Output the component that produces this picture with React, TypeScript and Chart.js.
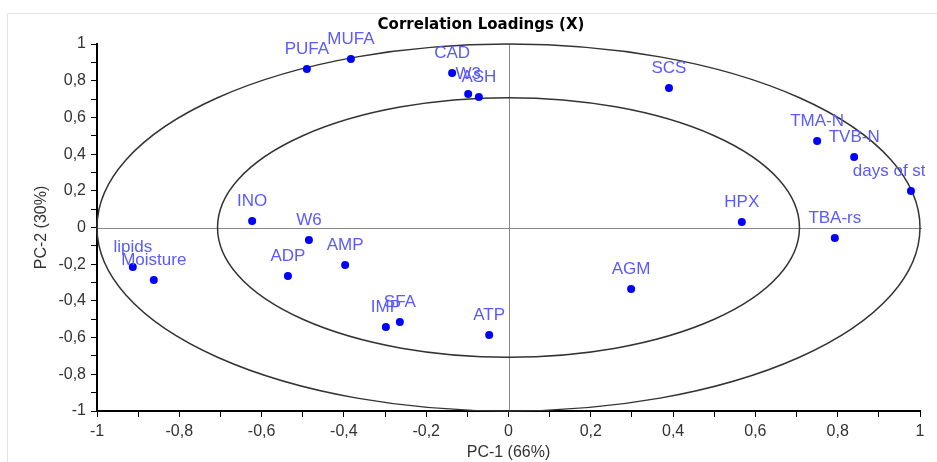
import React, { useEffect, useRef } from 'react';
import { Chart, registerables } from 'chart.js';

Chart.register(...registerables);

// ---- Data ----
const variableNames = [
  'PUFA', 'MUFA', 'CAD', 'W3', 'ASH', 'SCS', 'TMA-N', 'TVB-N', 'days of storage',
  'HPX', 'TBA-rs', 'INO', 'W6', 'lipids', 'Moisture', 'ADP', 'AMP', 'IMP', 'SFA', 'ATP', 'AGM',
];
const pc1Loadings = [
  -0.490, -0.383, -0.137, -0.098, -0.072, 0.390, 0.750, 0.840, 0.978,
  0.567, 0.793, -0.623, -0.485, -0.913, -0.862, -0.536, -0.397, -0.298, -0.264, -0.047, 0.298,
];
const pc2Loadings = [
  0.864, 0.918, 0.842, 0.728, 0.711, 0.760, 0.471, 0.384, 0.199,
  0.030, -0.057, 0.035, -0.068, -0.215, -0.286, -0.264, -0.204, -0.542, -0.515, -0.586, -0.335,
];
const ellipseRadii = [1, Math.SQRT1_2];

const chartTitle = 'Correlation Loadings (X)';
const xAxisTitle = 'PC-1 (66%)';
const yAxisTitle = 'PC-2 (30%)';

const fmtTick = (v: number) => {
  const r = Math.round(v * 10);
  if (r % 2 !== 0) return '';
  return (r / 10).toString().replace('.', ',');
};

const overlayPlugin = {
  id: 'overlay',
  beforeDatasetsDraw(chart: any) {
    const { ctx, chartArea, scales } = chart;
    const x = scales.x, y = scales.y;
    ctx.save();
    // zero lines
    ctx.strokeStyle = '#8a8a8a';
    ctx.lineWidth = 1;
    const x0 = Math.round(x.getPixelForValue(0)) + 0.5;
    const y0 = Math.round(y.getPixelForValue(0)) + 0.5;
    ctx.beginPath();
    ctx.moveTo(x0, chartArea.top);
    ctx.lineTo(x0, chartArea.bottom);
    ctx.moveTo(chartArea.left, y0);
    ctx.lineTo(chartArea.right + 2, y0);
    ctx.stroke();
    // correlation ellipses
    const cx = x.getPixelForValue(0), cy = y.getPixelForValue(0);
    ctx.strokeStyle = '#333';
    ctx.lineWidth = 1.5;
    for (const r of ellipseRadii) {
      const rx = x.getPixelForValue(r) - cx;
      const ry = cy - y.getPixelForValue(r);
      ctx.beginPath();
      ctx.ellipse(cx, cy, rx, ry, 0, 0, Math.PI * 2);
      ctx.stroke();
    }
    ctx.restore();
  },
  afterDatasetsDraw(chart: any) {
    const { ctx, chartArea, scales } = chart;
    const x = scales.x, y = scales.y;
    ctx.save();
    ctx.beginPath();
    ctx.rect(0, 0, chartArea.right + 5, chart.height);
    ctx.clip();
    ctx.font = '17px "Liberation Sans", Arial, sans-serif';
    ctx.fillStyle = '#5a5aff';
    ctx.textAlign = 'center';
    ctx.textBaseline = 'alphabetic';
    variableNames.forEach((name, i) => {
      const px = x.getPixelForValue(pc1Loadings[i]);
      const py = y.getPixelForValue(pc2Loadings[i]);
      ctx.fillText(name, px, py - 15);
    });
    ctx.restore();
  },
  afterDraw(chart: any) {
    const { ctx, chartArea, width, height } = chart;
    ctx.save();
    // outer light frame
    ctx.strokeStyle = '#e2e2e2';
    ctx.lineWidth = 1;
    ctx.beginPath();
    ctx.moveTo(7.5, height);
    ctx.lineTo(7.5, 13.5);
    ctx.lineTo(width, 13.5);
    ctx.stroke();
    // title
    ctx.fillStyle = '#000';
    ctx.font = 'bold 15px "DejaVu Sans", Verdana, sans-serif';
    ctx.textAlign = 'center';
    ctx.textBaseline = 'middle';
    ctx.fillText(chartTitle, 481, 25);
    // axis titles
    ctx.fillStyle = '#333';
    ctx.font = '16px "Liberation Sans", Arial, sans-serif';
    ctx.fillText(xAxisTitle, (chartArea.left + chartArea.right) / 2, 453);
    ctx.translate(42, (chartArea.top + chartArea.bottom) / 2);
    ctx.rotate(-Math.PI / 2);
    ctx.fillText(yAxisTitle, 0, 0);
    ctx.restore();
  },
};

const axisCommon = (afterFit: (s: any) => void) => ({
  type: 'linear' as const,
  min: -1,
  max: 1,
  afterFit,
  ticks: {
    stepSize: 0.1,
    autoSkip: false,
    maxRotation: 0,
    padding: 5,
    color: '#333',
    font: { size: 16, family: '"Liberation Sans", Arial, sans-serif' },
    callback: (v: any) => fmtTick(Number(v)),
  },
  grid: {
    display: true,
    drawOnChartArea: false,
    drawTicks: true,
    tickLength: 6,
    color: '#000',
  },
  border: { display: true, color: '#000', width: 2 },
});

export default function App() {
  const ref = useRef<HTMLCanvasElement>(null);
  useEffect(() => {
    if (!ref.current) return;
    const chart = new Chart(ref.current, {
      type: 'scatter',
      data: {
        datasets: [
          {
            data: pc1Loadings.map((v, i) => ({ x: v, y: pc2Loadings[i] })),
            backgroundColor: '#0000ff',
            borderWidth: 0,
            pointRadius: 4,
            clip: false as any,
          },
        ],
      },
      options: {
        animation: false,
        responsive: false,
        devicePixelRatio: 1,
        layout: { padding: { top: 44, right: 17, bottom: 0, left: 0 } },
        plugins: { legend: { display: false }, tooltip: { enabled: false }, title: { display: false } },
        scales: {
          x: axisCommon((s: any) => { s.height = 51; }),
          y: axisCommon((s: any) => { s.width = 97; }),
        },
      },
      plugins: [overlayPlugin],
    });
    return () => chart.destroy();
  }, []);
  return (
    <div style={{ position: 'fixed', left: 0, top: 0, width: 937, height: 462, background: '#fff' }}>
      <canvas ref={ref} width={937} height={462} />
    </div>
  );
}
